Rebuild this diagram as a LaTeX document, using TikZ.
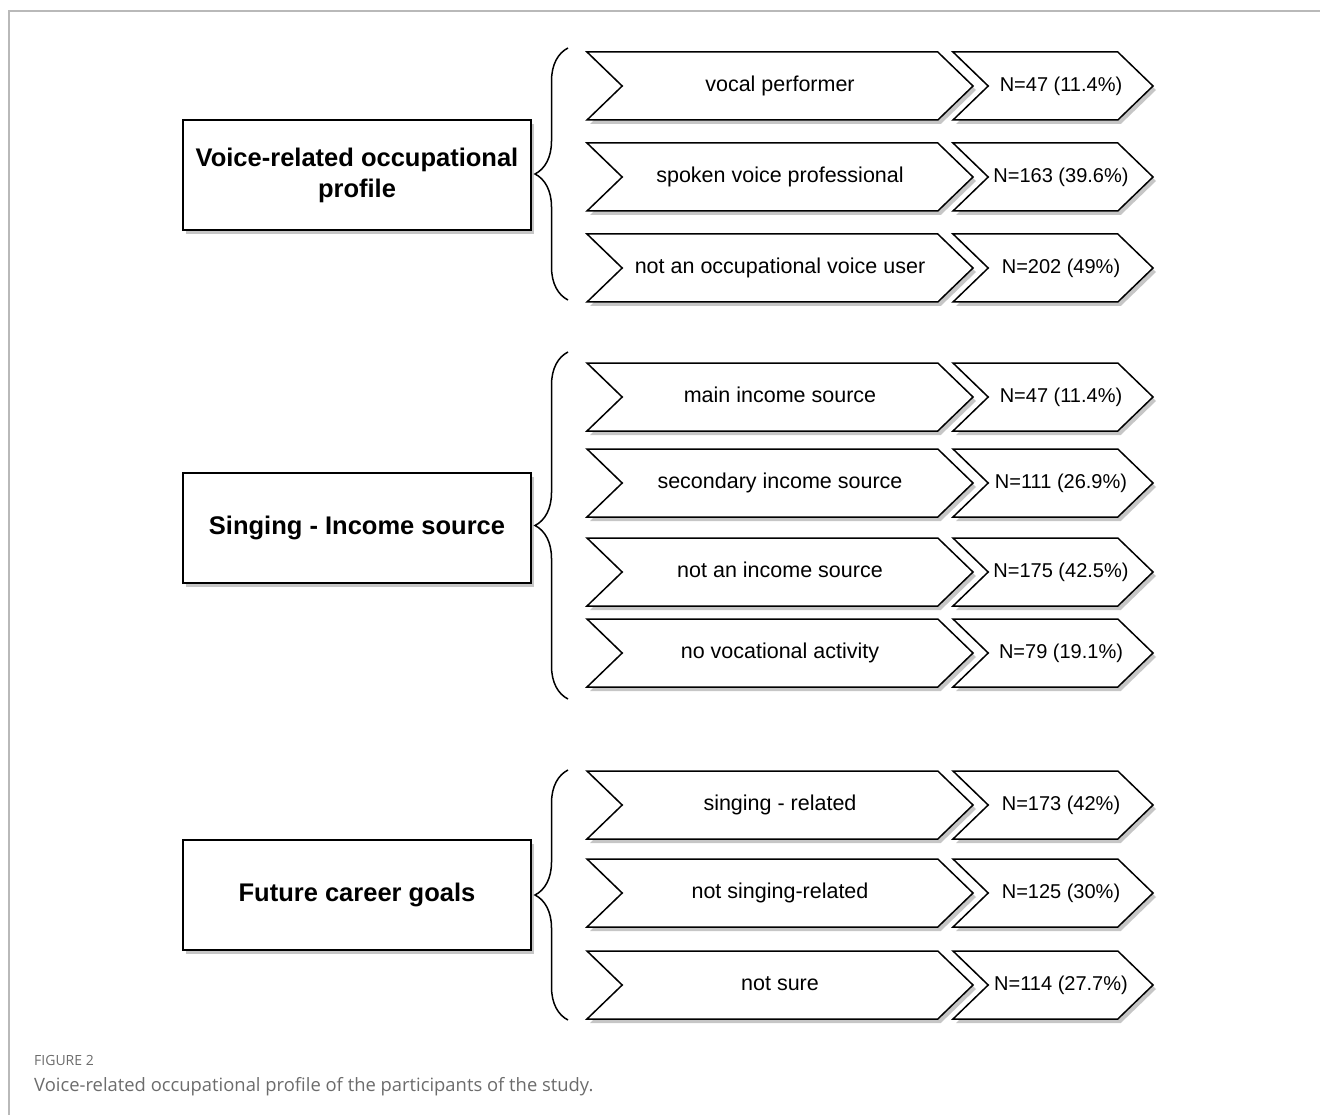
\documentclass[tikz,border=0pt]{standalone}
\usepackage{fontspec}
\setmainfont{Liberation Sans}
\newfontfamily\captionfont{Open Sans}
\usetikzlibrary{shapes.symbols,shadows,decorations.pathreplacing}

\tikzset{
  boxshadow/.style={drop shadow={shadow xshift=3pt,shadow yshift=-4pt,fill=gray!45,opacity=1}},
  headbox/.style={draw,line width=1.5pt,fill=white,boxshadow,minimum width=348pt,minimum height=110pt,
    align=center,font=\fontsize{25.5}{31}\selectfont\bfseries},
  itemarrow/.style={signal,signal to=east,signal from=west,signal pointer angle=88,draw,line width=1.5pt,
    fill=white,boxshadow,minimum width=386pt,minimum height=68pt,inner sep=0pt,
    text height=15pt,text depth=4pt,font=\fontsize{21.5}{25}\selectfont},
  countarrow/.style={itemarrow,minimum width=200pt,
    label={[xshift=8pt,inner sep=0pt,text height=15pt,text depth=4pt,font=\fontsize{20}{24}\selectfont]center:#1}},
  curly/.style={decorate,decoration={brace,amplitude=33pt},line width=1.5pt},
}

\begin{document}
\begin{tikzpicture}[x=1pt,y=-1pt]
\useasboundingbox (0,0) rectangle (1320,1115);

% Frame
\draw[gray!55,line width=2pt] (9,1115) -- (9,11) -- (1320,11);

% Voice-related occupational profile
\node[headbox] (prof) at (357,175) {Voice-related occupational\\profile};
\node[itemarrow] (prof1) at (780,86) {vocal performer};
\node[itemarrow] (prof2) at (780,177) {spoken voice professional};
\node[itemarrow] (prof3) at (780,268) {not an occupational voice user};
\node[countarrow={N=47 (11.4\%)}] (profn1) at (1053,86) {};
\node[countarrow={N=163 (39.6\%)}] (profn2) at (1053,177) {};
\node[countarrow={N=202 (49\%)}] (profn3) at (1053,268) {};
\coordinate (proftop) at (568,48);
\coordinate (profbot) at (568,300);
\draw[curly] (profbot) -- (proftop);

% Singing - Income source
\node[headbox] (inc) at (357,528) {Singing - Income source};
\node[itemarrow] (inc1) at (780,397) {main income source};
\node[itemarrow] (inc2) at (780,483) {secondary income source};
\node[itemarrow] (inc3) at (780,572) {not an income source};
\node[itemarrow] (inc4) at (780,653) {no vocational activity};
\node[countarrow={N=47 (11.4\%)}] (incn1) at (1053,397) {};
\node[countarrow={N=111 (26.9\%)}] (incn2) at (1053,483) {};
\node[countarrow={N=175 (42.5\%)}] (incn3) at (1053,572) {};
\node[countarrow={N=79 (19.1\%)}] (incn4) at (1053,653) {};
\coordinate (inctop) at (568,352);
\coordinate (incbot) at (568,699);
\draw[curly] (incbot) -- (inctop);

% Future career goals
\node[headbox] (goal) at (357,895) {Future career goals};
\node[itemarrow] (goal1) at (780,805) {singing - related};
\node[itemarrow] (goal2) at (780,893) {not singing-related};
\node[itemarrow] (goal3) at (780,985) {not sure};
\node[countarrow={N=173 (42\%)}] (goaln1) at (1053,805) {};
\node[countarrow={N=125 (30\%)}] (goaln2) at (1053,893) {};
\node[countarrow={N=114 (27.7\%)}] (goaln3) at (1053,985) {};
\coordinate (goaltop) at (568,770);
\coordinate (goalbot) at (568,1020);
\draw[curly] (goalbot) -- (goaltop);

% Caption
\node[anchor=west,inner sep=0pt,text=gray!85!black,font=\captionfont\fontsize{14}{16}\selectfont] (figno) at (34,1060) {FIGURE 2};
\node[anchor=west,inner sep=0pt,text=gray!85!black,font=\captionfont\fontsize{18.4}{22}\selectfont] (figtext) at (34,1087)
  {Voice-related occupational profile of the participants of the study.};
\end{tikzpicture}
\end{document}
